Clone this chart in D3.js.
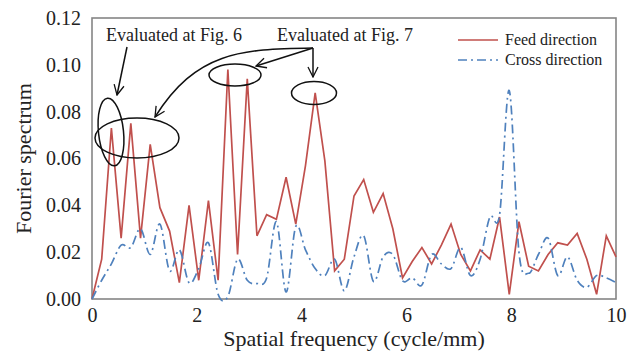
<!DOCTYPE html>
<html>
<head>
    <meta charset="utf-8">
    <title>Fourier spectrum</title>
    <script src="https://cdn.jsdelivr.net/npm/d3@7"></script>
    <style type="text/css">
        body { margin: 0; background: #fff; }
        text { font-family: "Liberation Serif", "Times New Roman", serif; fill: #222; }
    </style>
</head>
<body>
    <div id="chart"></div>
    <script>
        // spatial frequency grid (cycle/mm)
        var freq = [0, 0.185, 0.370, 0.556, 0.741, 0.926, 1.111, 1.296, 1.481, 1.667,
            1.852, 2.037, 2.222, 2.407, 2.593, 2.778, 2.963, 3.148, 3.333, 3.519,
            3.704, 3.889, 4.074, 4.259, 4.444, 4.630, 4.815, 5.000, 5.185, 5.370,
            5.556, 5.741, 5.926, 6.111, 6.296, 6.481, 6.667, 6.852, 7.037, 7.222,
            7.407, 7.593, 7.778, 7.963, 8.148, 8.333, 8.519, 8.704, 8.889, 9.074,
            9.259, 9.444, 9.630, 9.815, 10.000];

        var feed = [0, 0.017, 0.073, 0.026, 0.075, 0.026, 0.066, 0.039, 0.029, 0.007,
            0.040, 0.008, 0.042, 0.008, 0.098, 0.019, 0.094, 0.027, 0.036, 0.034,
            0.052, 0.032, 0.057, 0.088, 0.059, 0.012, 0.017, 0.044, 0.051, 0.037,
            0.045, 0.030, 0.009, 0.016, 0.022, 0.015, 0.023, 0.032, 0.019, 0.012,
            0.021, 0.017, 0.035, 0.002, 0.033, 0.014, 0.012, 0.019, 0.024, 0.023,
            0.028, 0.017, 0.002, 0.027, 0.018];

        var cross = [0, 0.008, 0.015, 0.023, 0.022, 0.030, 0.019, 0.032, 0.012, 0.021,
            0.007, 0.013, 0.024, 0.002, 0.001, 0.017, 0.008, 0.0066, 0.009, 0.033,
            0.003, 0.031, 0.021, 0.013, 0.010, 0.017, 0.0035, 0.018, 0.027, 0.0075,
            0.018, 0.019, 0.0078, 0.009, 0.006, 0.019, 0.015, 0.013, 0.022, 0.010,
            0.017, 0.035, 0.036, 0.089, 0.020, 0.011, 0.019, 0.026, 0.010, 0.018,
            0.008, 0.005, 0.010, 0.009, 0.007];

        var xTicks = [0, 2, 4, 6, 8, 10];
        var yTicks = [0, 0.02, 0.04, 0.06, 0.08, 0.10, 0.12];
        var seriesNames = ["Feed direction", "Cross direction"];

        var W = 638, H = 352;
        var margin = { top: 18, right: 22, bottom: 53, left: 92 };
        var width = W - margin.left - margin.right,
            height = H - margin.top - margin.bottom;

        var svg = d3.select("#chart").append("svg")
            .attr("width", W)
            .attr("height", H);

        var g = svg.append("g")
            .attr("transform", "translate(" + margin.left + "," + margin.top + ")");

        var x = d3.scaleLinear().domain([0, 10]).range([0, width]);
        var y = d3.scaleLinear().domain([0, 0.12]).range([height, 0]);

        // axes (labels only, Excel style)
        var xAxis = g.append("g")
            .attr("transform", "translate(0," + height + ")")
            .call(d3.axisBottom(x).tickValues(xTicks).tickSize(0).tickPadding(9).tickFormat(d3.format("d")));
        var yAxis = g.append("g")
            .call(d3.axisLeft(y).tickValues(yTicks).tickSize(0).tickPadding(11).tickFormat(d3.format(".2f")));
        [xAxis, yAxis].forEach(function(a) {
            a.select(".domain").remove();
            a.selectAll("text").attr("font-size", "20px")
                .attr("font-family", "Liberation Serif, serif").attr("fill", "#222");
        });

        // plot frame
        g.append("rect")
            .attr("width", width).attr("height", height)
            .attr("fill", "none").attr("stroke", "#858585").attr("stroke-width", 1.6);

        var lineFeed = d3.line()
            .x(function(d, i) { return x(freq[i]); })
            .y(function(d) { return y(d); });
        var lineCross = d3.line()
            .x(function(d, i) { return x(freq[i]); })
            .y(function(d) { return y(d); })
            .curve(d3.curveCardinal.tension(0));

        g.append("path").datum(feed)
            .attr("d", lineFeed)
            .attr("fill", "none").attr("stroke", "#c0504d").attr("stroke-width", 1.7);
        g.append("path").datum(cross)
            .attr("d", lineCross)
            .attr("fill", "none").attr("stroke", "#4f81bd").attr("stroke-width", 1.7)
            .attr("stroke-dasharray", "9,4,2,4");

        // axis titles
        svg.append("text")
            .attr("x", 354).attr("y", 346)
            .attr("text-anchor", "middle").attr("font-size", "22px")
            .text("Spatial frequency (cycle/mm)");
        svg.append("text")
            .attr("transform", "translate(31," + (margin.top + height / 2) + ") rotate(-90)")
            .attr("text-anchor", "middle").attr("font-size", "22px")
            .text("Fourier spectrum");

        // legend
        var legend = svg.append("g").attr("transform", "translate(458,40)");
        legend.append("line").attr("x1", 0).attr("x2", 40).attr("y1", 0).attr("y2", 0)
            .attr("stroke", "#c0504d").attr("stroke-width", 1.7);
        legend.append("line").attr("x1", 0).attr("x2", 40).attr("y1", 20).attr("y2", 20)
            .attr("stroke", "#4f81bd").attr("stroke-width", 1.7).attr("stroke-dasharray", "9,4,2,4");
        legend.selectAll("text.leg").data(seriesNames).enter().append("text")
            .attr("class", "leg")
            .attr("x", 47).attr("y", function(d, i) { return i * 20 + 5; })
            .attr("font-size", "16px")
            .text(function(d) { return d; });

        // annotations
        var defs = svg.append("defs");
        defs.append("marker").attr("id", "arr")
            .attr("viewBox", "0 0 12 12").attr("refX", 11).attr("refY", 6)
            .attr("markerWidth", 12).attr("markerHeight", 12)
            .attr("markerUnits", "userSpaceOnUse").attr("orient", "auto")
            .append("path").attr("d", "M1,1 L11,6 L1,11")
            .attr("fill", "none").attr("stroke", "#111").attr("stroke-width", 1.3);

        var ann = svg.append("g").attr("fill", "none").attr("stroke", "#111").attr("stroke-width", 1.5);
        ann.append("ellipse").attr("cx", 111).attr("cy", 132).attr("rx", 12.5).attr("ry", 34)
            .attr("transform", "rotate(-6,111,132)");
        ann.append("ellipse").attr("cx", 137).attr("cy", 138).attr("rx", 42).attr("ry", 20);
        ann.append("ellipse").attr("cx", 235).attr("cy", 75).attr("rx", 26).attr("ry", 11);
        ann.append("ellipse").attr("cx", 314).attr("cy", 93).attr("rx", 22.5).attr("ry", 11.5);

        ann.append("path").attr("d", "M127,47 L117,95").attr("marker-end", "url(#arr)");
        ann.append("path").attr("d", "M313,48 L313,77").attr("marker-end", "url(#arr)");
        ann.append("path").attr("d", "M313,48 L256,66").attr("marker-end", "url(#arr)");
        ann.append("path").attr("d", "M313,48 C240,49 196,52 155,117").attr("marker-end", "url(#arr)");

        svg.append("text").attr("x", 106).attr("y", 41).attr("font-size", "18px").text("Evaluated at Fig. 6");
        svg.append("text").attr("x", 277).attr("y", 41).attr("font-size", "18px").text("Evaluated at Fig. 7");
    </script>
</body>
</html>
